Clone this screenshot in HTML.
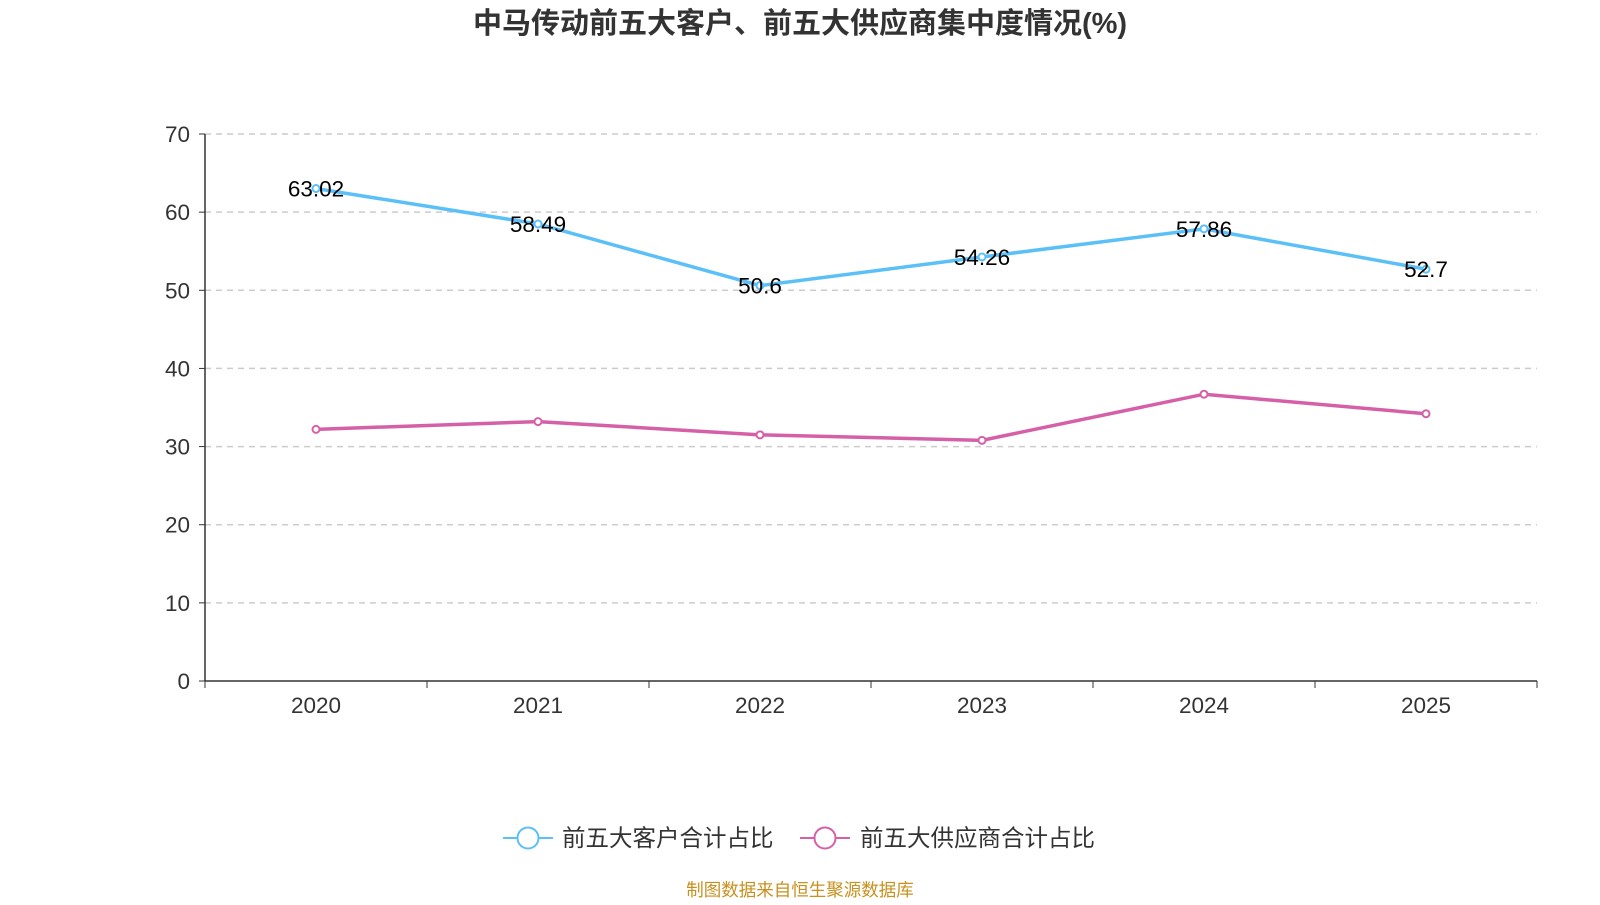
<!DOCTYPE html>
<html><head><meta charset="utf-8"><style>
body{margin:0;width:1600px;height:900px;background:#fff;overflow:hidden}
svg text{font-family:"Liberation Sans","Noto Sans CJK SC",sans-serif}
</style></head><body>
<svg id="c" width="1600" height="900">
<text x="800" y="33" text-anchor="middle" font-size="29" font-weight="bold" fill="#333">中马传动前五大客户、前五大供应商集中度情况(%)</text>
<g id="grid"></g><g id="axes"></g><g id="series"></g>
<g>
<g>
<line x1="503" y1="838" x2="553" y2="838" stroke="#5bc0f8" stroke-width="2"/><circle cx="528" cy="838" r="10.5" fill="#fff" stroke="#5bc0f8" stroke-width="2"/>
<text x="562" y="846" font-size="23.5" fill="#333">前五大客户合计占比</text></g>
<g>
<line x1="800" y1="838" x2="850" y2="838" stroke="#d660a8" stroke-width="2"/><circle cx="825" cy="838" r="10.5" fill="#fff" stroke="#d660a8" stroke-width="2"/>
<text x="860" y="846" font-size="23.5" fill="#333">前五大供应商合计占比</text></g>
</g>
<text x="800" y="896" text-anchor="middle" font-size="17.5" fill="#c8901e">制图数据来自恒生聚源数据库</text>
</svg>
<script>
const categories=["2020","2021","2022","2023","2024","2025"];
const customers=[63.02,58.49,50.6,54.26,57.86,52.7];
const suppliers=[32.2,33.2,31.5,30.8,36.7,34.2];
const yTicks=[0,10,20,30,40,50,60,70];
const NS="http://www.w3.org/2000/svg";
const X0=205,X1=1537,Y0=681,Y1=134;
const band=(X1-X0)/categories.length;
const x=i=>X0+band*(i+0.5);
const y=v=>Y0-(v/70)*(Y0-Y1);
function mk(p,t,a){const e=document.createElementNS(NS,t);for(const k in a)e.setAttribute(k,a[k]);document.getElementById(p).appendChild(e);return e;}
yTicks.forEach(v=>{
 if(v>0){const l=mk('grid','line',{x1:X0,x2:X1,y1:y(v),y2:y(v),stroke:'#ccc','stroke-dasharray':'6,5','stroke-width':1.5});
 
 }
 mk('axes','line',{x1:X0-6,x2:X0,y1:y(v),y2:y(v),stroke:'#333'});
 const t=mk('axes','text',{x:X0-15,y:y(v)+8,'text-anchor':'end','font-size':22.5,fill:'#333'});t.textContent=v;
 
 
});
mk('axes','line',{x1:X0,x2:X0,y1:Y1,y2:Y0,stroke:'#333','stroke-width':1.5});
mk('axes','line',{x1:X0,x2:X1,y1:Y0,y2:Y0,stroke:'#333','stroke-width':1.5});
for(let i=0;i<=categories.length;i++)mk('axes','line',{x1:X0+band*i,x2:X0+band*i,y1:Y0,y2:Y0+7,stroke:'#333'});
categories.forEach((c,i)=>{const t=mk('axes','text',{x:x(i),y:Y0+32,'text-anchor':'middle','font-size':22.5,fill:'#333'});t.textContent=c;
 
 });
function series(vals,col,name,labels){
 const p=mk('series','polyline',{points:vals.map((v,i)=>x(i)+','+y(v)).join(' '),fill:'none',stroke:col,'stroke-width':3.5});
 
 
 vals.forEach((v,i)=>{const c=mk('series','circle',{cx:x(i),cy:y(v),r:3.5,fill:'#fff',stroke:col,'stroke-width':2});
  
  
  if(labels){const t=mk('series','text',{x:x(i),y:y(v)+8,'text-anchor':'middle','font-size':22.5,fill:'#000'});t.textContent=v;
  
  }});
}
series(suppliers,'#d660a8','suppliers',false);
series(customers,'#5bc0f8','customers',true);
</script>
</body></html>
